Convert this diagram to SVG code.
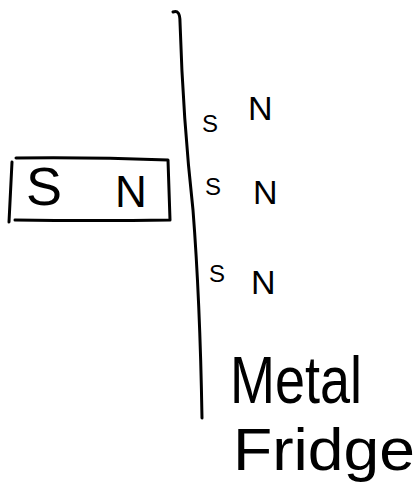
<svg xmlns="http://www.w3.org/2000/svg" width="417" height="483" viewBox="0 0 417 483">
<style>
.ink{fill:none;stroke:#000;stroke-width:3;stroke-linecap:round;stroke-linejoin:round}
.t{font-family:"Liberation Sans","DejaVu Sans",sans-serif;fill:#000}
.s{font-size:24px}
.n{font-size:34px}
.big{font-size:54px}
</style>
<rect width="417" height="483" fill="#fff"/>
<g id="magnet">
<path class="ink" d="M12,162 L9,222 M16,158 Q90,157 168,160 L170,220 Q95,221 15,220"/>
<text class="t big" x="26" y="205">S</text>
<text class="t" style="font-size:44px" x="115" y="207">N</text>
</g>
<g id="connectors">
<path class="ink" d="M173,12 Q180,9 180,22 Q183,120 193,210 Q200,300 202,418"/>
</g>
<g id="domains">
<text class="t s" x="202" y="132">S</text>
<text class="t n" x="248" y="120">N</text>
<text class="t s" x="205" y="195">S</text>
<text class="t n" x="253" y="204">N</text>
<text class="t s" x="209" y="282">S</text>
<text class="t n" x="251" y="294">N</text>
</g>
<g id="labels">
<text class="t" style="font-size:66px" x="230" y="403" textLength="132" lengthAdjust="spacingAndGlyphs">Metal</text>
<text class="t" style="font-size:60px" x="233" y="470" textLength="182" lengthAdjust="spacingAndGlyphs">Fridge</text>
</g>
</svg>
